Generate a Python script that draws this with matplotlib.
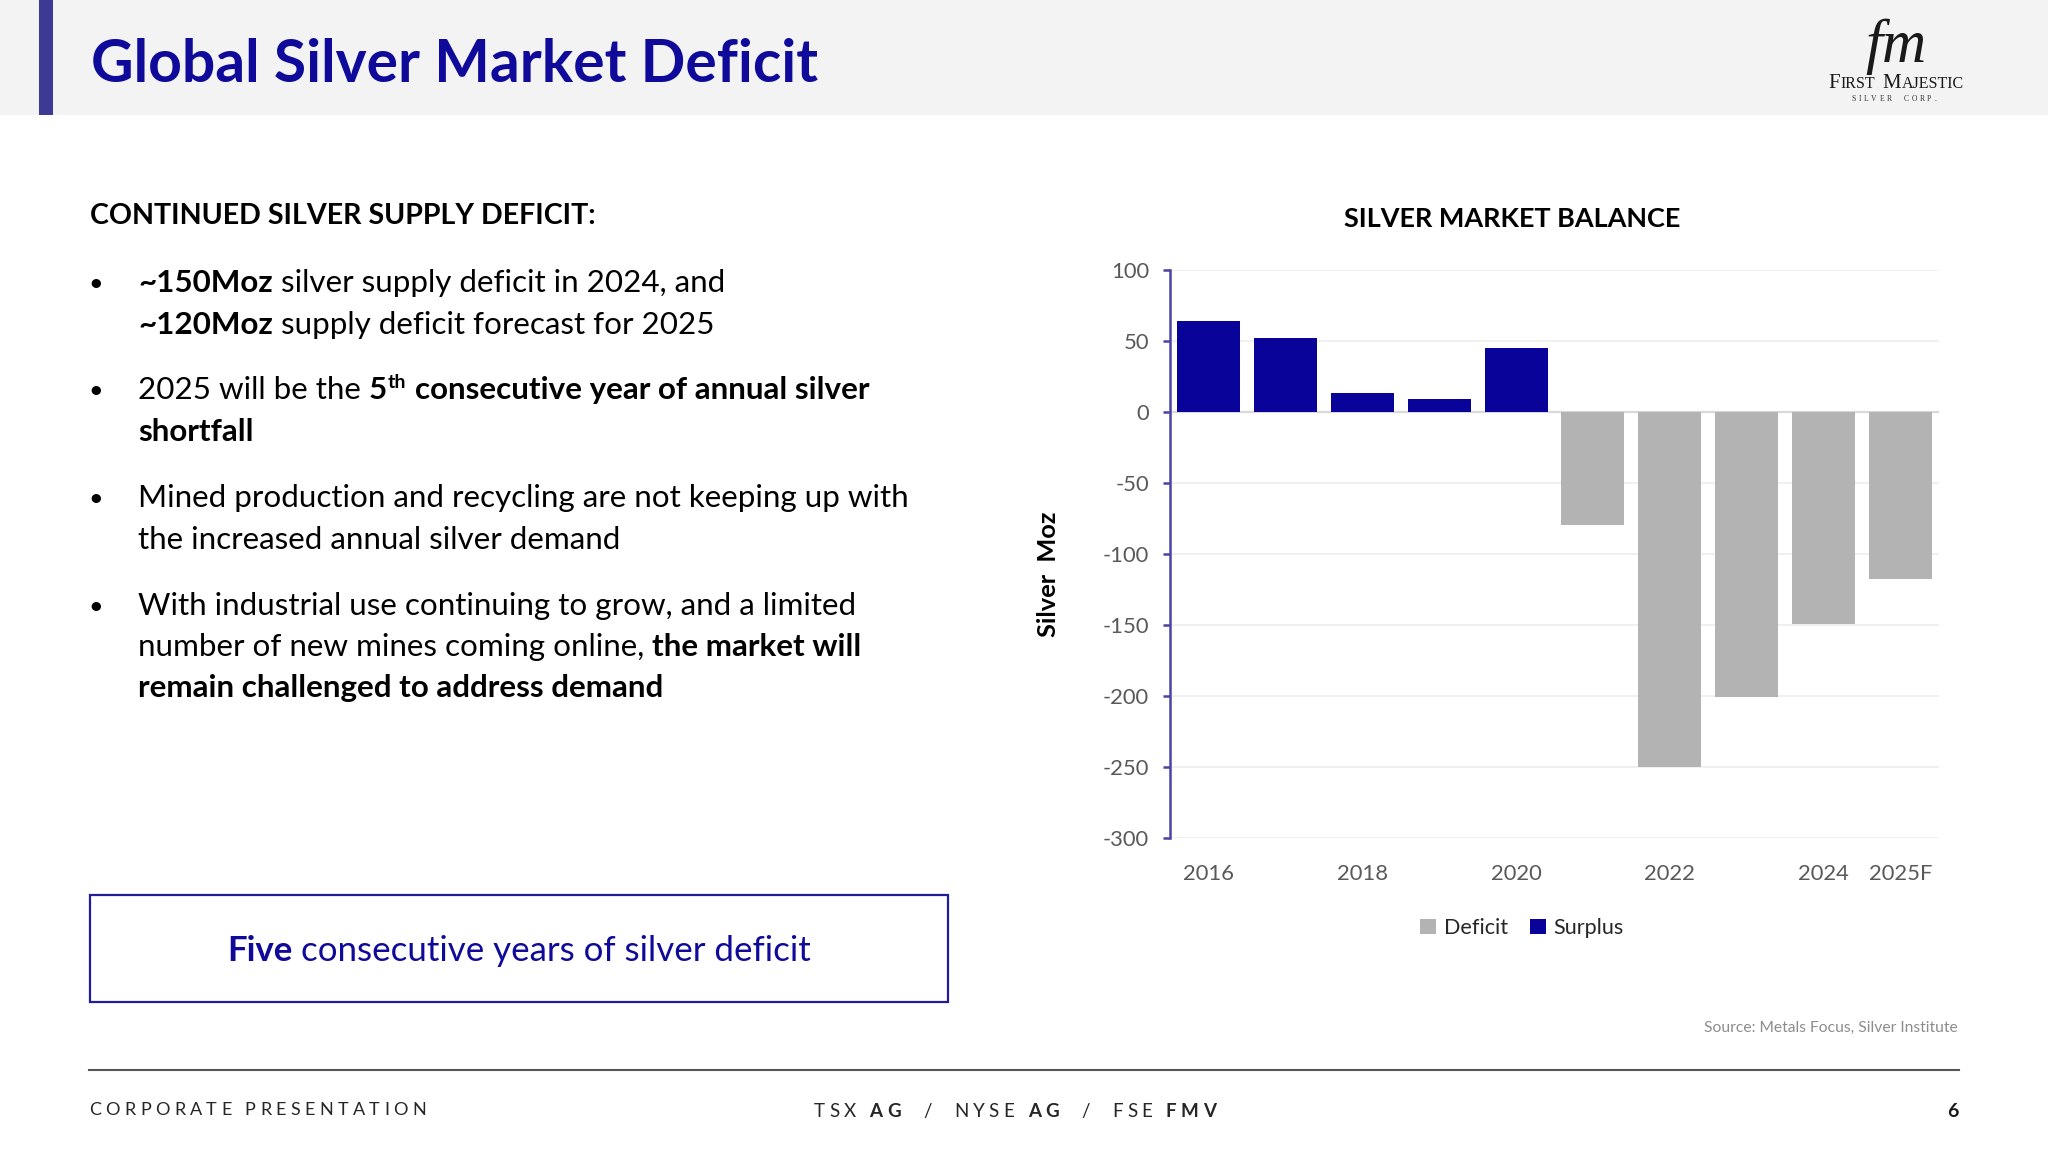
import matplotlib
matplotlib.use('Agg')
import matplotlib.pyplot as plt
from matplotlib.patches import Rectangle
from matplotlib.lines import Line2D

# ---------------- data ----------------
years = ['2016', '2017', '2018', '2019', '2020', '2021', '2022', '2023', '2024', '2025F']
surplus = [64, 52, 13.6, 9.5, 45, 0, 0, 0, 0, 0]
deficit = [0, 0, 0, 0, 0, -79.6, -249.7, -201, -149.3, -117.7]
shown_xticks = ['2016', '2018', '2020', '2022', '2024', '2025F']
y_ticks = [100, 50, 0, -50, -100, -150, -200, -250, -300]

W, H = 2048, 1152
FONT = 'Lato'
SERIF = 'Liberation Serif'
BLUE = '#0a0399'
GREY_BAR = '#b3b3b3'
DARK_BLUE_TXT = '#0f0a99'

fig = plt.figure(figsize=(W / 100, H / 100), dpi=100)
fig.patch.set_facecolor('white')
renderer = fig.canvas.get_renderer()


def fx(x):
    return x / W


def fy(y):
    return 1 - y / H


def measure(text, size, weight='normal', family=FONT, style='normal'):
    t = fig.text(0, 0, text, fontsize=size, fontweight=weight, family=family, fontstyle=style)
    w = t.get_window_extent(renderer).width
    t.remove()
    return w


def fit(text, target, weight='normal', family=FONT):
    return 20 * target / measure(text, 20, weight, family)


def runs(x, y, parts, size, color='black', family=FONT):
    # parts: (text, weight) or (text, weight, size)
    cur = x
    for p in parts:
        txt, weight = p[0], p[1]
        s = p[2] if len(p) > 2 else size
        sp = measure('x x', s, 'normal', family) - measure('xx', s, 'normal', family)
        lead = len(txt) - len(txt.lstrip(' '))
        trail = len(txt) - len(txt.rstrip(' '))
        cur += lead * sp
        core = txt.strip(' ')
        if core:
            t = fig.text(fx(cur), fy(y), core, fontsize=s, fontweight=weight,
                         color=color, family=family, va='baseline', ha='left')
            cur += t.get_window_extent(renderer).width
        cur += trail * sp
    return cur


def tracked(x, y, parts, size, total_width, color, ha='left', family=FONT):
    # letter-spaced text; parts: list of (text, weight)
    chars = []
    for txt, weight in parts:
        for c in txt:
            chars.append((c, weight))
    sp = measure('x x', size, family=family) - measure('xx', size, family=family)
    widths = []
    for c, w in chars:
        widths.append(sp if c == ' ' else measure(c, size, w, family))
    natural = sum(widths)
    track = (total_width - natural) / max(len(chars) - 1, 1)
    if ha == 'left':
        start = x
    elif ha == 'center':
        start = x - total_width / 2
    else:
        start = x - total_width
    cur = start
    for (c, w), cw in zip(chars, widths):
        if c != ' ':
            fig.text(fx(cur), fy(y), c, fontsize=size, fontweight=w, color=color,
                     family=family, va='baseline', ha='left')
        cur += cw + track


# ---------------- header ----------------
fig.add_artist(Rectangle((0, fy(115)), 1, 115 / H, transform=fig.transFigure,
                         facecolor='#f3f3f3', edgecolor='none', zorder=0))
fig.add_artist(Rectangle((fx(39), fy(115)), 14 / W, 115 / H, transform=fig.transFigure,
                         facecolor='#3d3a96', edgecolor='none', zorder=1))
title_size = fit('Global Silver Market Deficit', 728, 'bold')
fig.text(fx(91), fy(82), 'Global Silver Market Deficit', fontsize=title_size,
         fontweight='bold', color=DARK_BLUE_TXT, family=FONT, va='baseline', ha='left')

# logo
LOGO = '#1a1a1a'
fig.text(fx(1896), fy(62), 'fm', fontsize=44, fontstyle='italic', family=SERIF,
         color=LOGO, ha='center', va='baseline')
logo_parts = [('F', 'normal', 15), ('IRST', 'normal', 11.5), (' ', 'normal', 11.5),
              ('M', 'normal', 15), ('AJESTIC', 'normal', 11.5)]
lw_total = 0
for txt, w, s in logo_parts:
    if txt == ' ':
        lw_total += measure('x x', s, family=SERIF) - measure('xx', s, family=SERIF)
    else:
        lw_total += measure(txt, s, family=SERIF)
runs(1894 - lw_total / 2, 88, logo_parts, 11.5, color=LOGO, family=SERIF)
tracked(1894, 101, [('SILVER  CORP.', 'normal')], 5.5, 84, '#333333', ha='center', family=SERIF)

# ---------------- left text ----------------
head_size = fit('CONTINUED SILVER SUPPLY DEFICIT:', 507, 'bold')
fig.text(fx(90), fy(224), 'CONTINUED SILVER SUPPLY DEFICIT:', fontsize=head_size,
         fontweight='bold', color='black', family=FONT, va='baseline', ha='left')

body = fit('Mined production and recycling are not keeping up with', 775)
BX, TX = 96, 138
bullet_lines = [
    (292, True, [('~150Moz', 'bold'), (' silver supply deficit in 2024, and', 'normal')]),
    (334, False, [('~120Moz', 'bold'), (' supply deficit forecast for 2025', 'normal')]),
    (399, True, None),
    (441, False, [('shortfall', 'bold')]),
    (507, True, [('Mined production and recycling are not keeping up with', 'normal')]),
    (549, False, [('the increased annual silver demand', 'normal')]),
    (615, True, [('With industrial use continuing to grow, and a limited', 'normal')]),
    (656, False, [('number of new mines coming online, ', 'normal'), ('the market will', 'bold')]),
    (697, False, [('remain challenged to address demand', 'bold')]),
]
for y, has_bullet, parts in bullet_lines:
    if has_bullet:
        fig.text(fx(BX), fy(y - 1), '•', fontsize=body * 0.8, color='black', family=FONT,
                 va='baseline', ha='center')
    if parts is None:
        cur = runs(TX, y, [('2025 will be the ', 'normal'), ('5', 'bold')], body)
        t = fig.text(fx(cur + 1), fy(y - 11), 'th', fontsize=body * 0.62, fontweight='bold',
                     color='black', family=FONT, va='baseline', ha='left')
        cur += t.get_window_extent(renderer).width + 1
        runs(cur, y, [(' consecutive year of annual silver', 'bold')], body)
    else:
        runs(TX, y, parts, body)

# highlighted box
fig.add_artist(Rectangle((fx(90), fy(1002)), (948 - 90) / W, (1002 - 895) / H,
                         transform=fig.transFigure, facecolor='white',
                         edgecolor='#221c99', linewidth=1.6, zorder=2))
box_size = fit('Five consecutive years of silver deficit', 584)
wbox = measure('Five', box_size, 'bold') + measure(' consecutive years of silver deficit', box_size)
runs(519 - wbox / 2, 961, [('Five', 'bold'), (' consecutive years of silver deficit', 'normal')],
     box_size, color=DARK_BLUE_TXT)

# ---------------- chart ----------------
ax = fig.add_axes([fx(1170), fy(838), (1939 - 1170) / W, (838 - 270) / H])
x = range(len(years))
ax.bar(x, deficit, width=0.82, color=GREY_BAR, label='Deficit', zorder=3)
ax.bar(x, surplus, width=0.82, color=BLUE, label='Surplus', zorder=3)
ax.set_xlim(-0.5, len(years) - 0.5)
ax.set_ylim(-300, 100)
ax.set_yticks(y_ticks)
ax.set_yticklabels([str(v) for v in y_ticks])
ax.set_xticks([years.index(s) for s in shown_xticks])
ax.set_xticklabels(shown_xticks)
ax.grid(axis='y', color='#ededed', linewidth=1.2, zorder=0)
ax.axhline(0, color='#d9d9d9', linewidth=1.6, zorder=2)
for side in ['top', 'right', 'bottom']:
    ax.spines[side].set_visible(False)
ax.spines['left'].set_color('#4a43a8')
ax.spines['left'].set_linewidth(1.8)
tick_size = fit('2016', 51)
ax.tick_params(axis='y', colors='#4a43a8', length=5, width=1.8, pad=10,
               labelcolor='#595959', labelsize=tick_size)
ax.tick_params(axis='x', length=0, pad=19, labelcolor='#595959', labelsize=tick_size)
for lab in ax.get_xticklabels() + ax.get_yticklabels():
    lab.set_family(FONT)

ylab_size = fit('Silver  Moz', 126, 'bold')
ax.set_ylabel('Silver  Moz', fontsize=ylab_size, fontweight='bold', family=FONT,
              color='black', va='center')
ax.yaxis.set_label_coords((1049 - 1170) / 769, (838 - 574) / 568)

ctitle_size = fit('SILVER MARKET BALANCE', 337, 'bold')
fig.text(fx(1512), fy(227), 'SILVER MARKET BALANCE', fontsize=ctitle_size, fontweight='bold',
         family=FONT, color='black', ha='center', va='baseline')

leg_size = fit('Deficit', 64)
handles, labels = ax.get_legend_handles_labels()
leg = fig.legend(handles, labels, loc='center', bbox_to_anchor=(fx(1522), fy(928)),
                 ncol=2, frameon=False, handlelength=0.75, handleheight=0.75,
                 handletextpad=0.35, columnspacing=1.0,
                 prop={'family': FONT, 'size': leg_size})
for t in leg.get_texts():
    t.set_color('#262626')

# ---------------- footer ----------------
src_size = fit('Source: Metals Focus, Silver Institute', 255)
fig.text(fx(1958), fy(1032), 'Source: Metals Focus, Silver Institute', fontsize=src_size,
         color='#8c8c8c', family=FONT, ha='right', va='baseline')
fig.add_artist(Line2D([fx(89), fx(1959)], [fy(1070), fy(1070)], color='#555555',
                      linewidth=1.5, transform=fig.transFigure))
tracked(89, 1115, [('CORPORATE PRESENTATION', 'normal')], 13, 337, '#262626')
tracked(814, 1117, [('TSX ', 'normal'), ('AG', 'bold'), ('  /  NYSE ', 'normal'),
                    ('AG', 'bold'), ('  /  FSE ', 'normal'), ('FMV', 'bold')],
        13.5, 402, '#262626')
fig.text(fx(1959), fy(1117), '6', fontsize=14, fontweight='bold', family=FONT,
         color='#1a1a1a', ha='right', va='baseline')

fig.savefig('out.png', dpi=100, facecolor='white')
